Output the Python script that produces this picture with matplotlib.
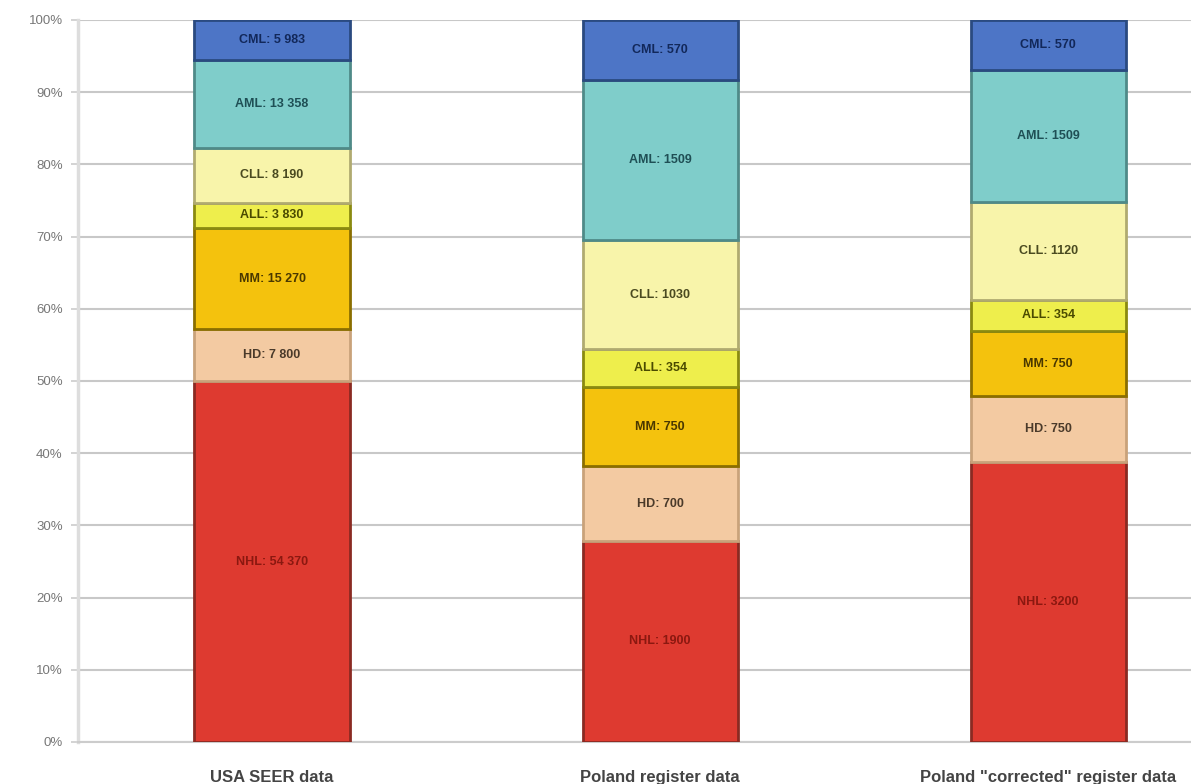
import numpy as np
import matplotlib
matplotlib.use('Agg')
import matplotlib.pyplot as plt

plt.rcParams['font.family'] = ['Liberation Sans', 'DejaVu Sans']

# Case counts per leukaemia/lymphoma subtype, bottom to top of each bar
sources = ['USA SEER data', 'Poland register data', 'Poland "corrected" register data']
subtypes = ['NHL', 'HD', 'MM', 'ALL', 'CLL', 'AML', 'CML']
counts = {
    'USA SEER data': [54370, 7800, 15270, 3830, 8190, 13358, 5983],
    'Poland register data': [1900, 700, 750, 354, 1030, 1509, 570],
    'Poland "corrected" register data': [3200, 750, 750, 354, 1120, 1509, 570],
}
label_sep = {'USA SEER data': ' ', 'Poland register data': '',
             'Poland "corrected" register data': ''}

fills = ['#de3a30', '#f3caa2', '#f4c20d', '#eeee4c', '#f8f4aa', '#7fcdca', '#4d75c6']
edges = ['#8a2a22', '#c9a27a', '#8a6e00', '#8a8a10', '#b0aa70', '#4f8a88', '#2a4a80']
txt = ['#8b1810', '#4a3a2a', '#4a3800', '#4a4a00', '#4a4a20', '#1f4f55', '#12285a']


def fmt(n, sep):
    s = f'{n:,}'
    return s.replace(',', sep) if sep else s.replace(',', '')


fig = plt.figure(figsize=(11.91, 7.84), dpi=100)
ax = fig.add_axes([0.0655, 0.0536, 0.9345, 0.921])

x = np.arange(len(sources))
for i, src in enumerate(sources):
    vals = np.array(counts[src], dtype=float)
    pct = vals / vals.sum() * 100
    bottom = 0.0
    for j, name in enumerate(subtypes):
        ax.bar(x[i], pct[j], width=0.4, bottom=bottom, color=fills[j],
               edgecolor=edges[j], linewidth=2, zorder=3)
        ax.text(x[i], bottom + pct[j] / 2,
                f'{name}: {fmt(counts[src][j], label_sep[src])}',
                ha='center', va='center', fontsize=9, fontweight='bold',
                color=txt[j], zorder=4)
        bottom += pct[j]

ax.set_xlim(-0.5, 2.368)
ax.set_ylim(0, 100)
ax.set_yticks(np.arange(0, 101, 10))
ax.set_yticklabels([f'{v}%' for v in range(0, 101, 10)], color='#777777', fontsize=9.5)
ax.set_xticks(x)
ax.set_xticklabels(sources, fontsize=12, fontweight='bold', color='#444444')
ax.tick_params(axis='y', length=5, color='#cccccc', width=1.2, pad=6)
ax.tick_params(axis='x', length=0, pad=20)

ax.grid(axis='y', color='#c8c8c8', linewidth=1.5, zorder=0)
ax.set_axisbelow(True)
for side in ['top', 'right']:
    ax.spines[side].set_visible(False)
ax.spines['left'].set_color('#dddddd')
ax.spines['left'].set_linewidth(2.5)
ax.spines['bottom'].set_color('#cccccc')
ax.spines['bottom'].set_linewidth(1.5)

fig.savefig('out.png', dpi=100)
